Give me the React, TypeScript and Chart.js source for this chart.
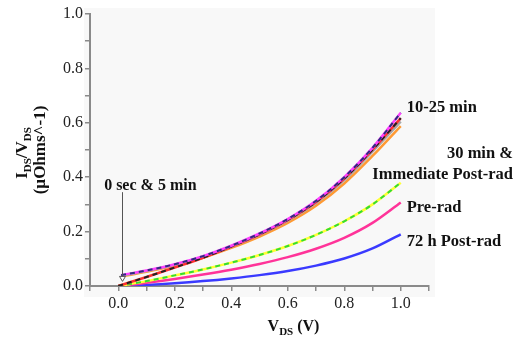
import React, { useEffect, useRef } from "react";
import { Chart, registerables } from "chart.js";

Chart.register(...registerables);

// ---- Data ----
const xUpper = [0.01, 0.1, 0.2, 0.3, 0.4, 0.5, 0.6, 0.7, 0.8, 0.9, 1.0];
const xFull = [0, 0.1, 0.2, 0.3, 0.4, 0.5, 0.6, 0.7, 0.8, 0.9, 1.0];

const magentaVals = [0.040, 0.057, 0.080, 0.110, 0.148, 0.193, 0.246, 0.313, 0.400, 0.508, 0.637];
const grayVals = [0.038, 0.055, 0.078, 0.107, 0.144, 0.188, 0.240, 0.305, 0.389, 0.494, 0.604];
const orangeVals = [0.035, 0.052, 0.075, 0.104, 0.140, 0.182, 0.232, 0.295, 0.377, 0.478, 0.588];
const redVals = [0.0, 0.033, 0.068, 0.104, 0.145, 0.190, 0.243, 0.309, 0.395, 0.501, 0.617];
const yellowVals = [0.0, 0.018, 0.039, 0.061, 0.086, 0.114, 0.147, 0.188, 0.238, 0.300, 0.380];
const pinkVals = [0.0, 0.012, 0.026, 0.042, 0.060, 0.081, 0.106, 0.137, 0.177, 0.232, 0.307];
const blueVals = [0.0, 0.004, 0.010, 0.018, 0.028, 0.040, 0.055, 0.075, 0.101, 0.138, 0.190];

const xTickLabels = ["0.0", "0.2", "0.4", "0.6", "0.8", "1.0"];
const yTickLabels = ["0.0", "0.2", "0.4", "0.6", "0.8", "1.0"];

const annotations = [
  { text: "10-25 min", x: 1.0, y: 0.655, dx: 6, align: "left" },
  { text: "30 min &", x: 1.1, y: 0.488, dx: 84, align: "right" },
  { text: "Immediate Post-rad", x: 1.1, y: 0.41, dx: 84, align: "right" },
  { text: "Pre-rad", x: 1.0, y: 0.288, dx: 6, align: "left" },
  { text: "72 h Post-rad", x: 1.0, y: 0.163, dx: 6, align: "left" },
];
const arrowLabel = { text: "0 sec & 5 min", x: -0.05, y: 0.368 };
const arrowX = 0.013;
const arrowFrom = 0.345;
const arrowTo = 0.017;

const pts = (xs: number[], ys: number[]) => xs.map((x, i) => ({ x, y: ys[i] }));

const SERIF = "'Liberation Serif', 'Times New Roman', serif";

function drawSubText(
  ctx: CanvasRenderingContext2D,
  parts: { t: string; sub?: boolean }[],
  x: number,
  y: number,
  size: number,
  subSize: number,
  align: "center" | "left"
) {
  const widths = parts.map((p) => {
    ctx.font = `bold ${p.sub ? subSize : size}px ${SERIF}`;
    return ctx.measureText(p.t).width;
  });
  const total = widths.reduce((a, b) => a + b, 0);
  let cx = align === "center" ? x - total / 2 : x;
  ctx.textAlign = "left";
  ctx.textBaseline = "alphabetic";
  parts.forEach((p, i) => {
    ctx.font = `bold ${p.sub ? subSize : size}px ${SERIF}`;
    ctx.fillText(p.t, cx, y + (p.sub ? 4 : 0));
    cx += widths[i];
  });
}

const decorPlugin = {
  id: "decor",
  beforeDraw(chart: any) {
    const { ctx, chartArea } = chart;
    ctx.save();
    ctx.fillStyle = "#f8f8f8";
    ctx.fillRect(chartArea.left - 6, chartArea.top - 6, chartArea.right - chartArea.left + 12, chartArea.bottom - chartArea.top + 17);
    ctx.restore();
  },
  afterDraw(chart: any) {
    const { ctx, chartArea } = chart;
    const xs = chart.scales.x;
    const ys = chart.scales.y;
    ctx.save();
    ctx.fillStyle = "#111";

    // Y-axis title (rotated, two lines)
    ctx.save();
    ctx.translate(21, 153);
    ctx.rotate(-Math.PI / 2);
    drawSubText(
      ctx,
      [{ t: "I" }, { t: "DS", sub: true }, { t: "/V" }, { t: "DS", sub: true }],
      0,
      6,
      17,
      11,
      "center"
    );
    ctx.restore();
    ctx.save();
    ctx.translate(41, 150);
    ctx.rotate(-Math.PI / 2);
    ctx.font = `bold 17px ${SERIF}`;
    ctx.textAlign = "center";
    ctx.textBaseline = "middle";
    ctx.fillText("(\u00b5Ohms^-1)", 0, 0);
    ctx.restore();

    // X-axis title
    drawSubText(
      ctx,
      [{ t: "V" }, { t: "DS", sub: true }, { t: " (V)" }],
      (chartArea.left + chartArea.right) / 2 + 34,
      331,
      16,
      11,
      "center"
    );

    // Annotations
    ctx.font = `bold 16.5px ${SERIF}`;
    ctx.textBaseline = "middle";
    annotations.forEach((a) => {
      ctx.textAlign = a.align as CanvasTextAlign;
      ctx.fillText(a.text, xs.getPixelForValue(a.x) + a.dx, ys.getPixelForValue(a.y));
    });
    ctx.font = `bold 16px ${SERIF}`;
    ctx.textAlign = "left";
    ctx.fillText(arrowLabel.text, xs.getPixelForValue(arrowLabel.x), ys.getPixelForValue(arrowLabel.y));

    // Arrow
    const ax = Math.round(xs.getPixelForValue(arrowX)) + 0.5;
    const y0 = ys.getPixelForValue(arrowFrom);
    const y1 = ys.getPixelForValue(arrowTo);
    ctx.strokeStyle = "#555";
    ctx.lineWidth = 1;
    ctx.beginPath();
    ctx.moveTo(ax, y0);
    ctx.lineTo(ax, y1 - 3);
    ctx.stroke();
    ctx.beginPath();
    ctx.moveTo(ax - 3, y1 - 5);
    ctx.lineTo(ax + 3, y1 - 5);
    ctx.lineTo(ax, y1);
    ctx.closePath();
    ctx.fillStyle = "#fff";
    ctx.fill();
    ctx.stroke();
    ctx.restore();
  },
};

export default function App() {
  const ref = useRef<HTMLCanvasElement | null>(null);
  useEffect(() => {
    if (!ref.current) return;
    const line = (data: any, color: string, width: number, dash: number[] = []) => ({
      data,
      borderColor: color,
      backgroundColor: color,
      borderWidth: width,
      borderDash: dash,
      pointRadius: 0,
      fill: false,
      tension: 0.4,
      cubicInterpolationMode: "monotone",
    });
    const chart = new Chart(ref.current, {
      type: "line",
      data: {
        datasets: [
          line(pts(xUpper, magentaVals), "#2e2e80", 2, [5, 4]),
          line(pts(xUpper, magentaVals), "#ff40ff", 2.5),
          line(pts(xFull, redVals), "#222222", 2, [5, 4]),
          line(pts(xFull, redVals), "#ff3030", 2.5),
          line(pts(xUpper, grayVals), "#a8a8a8", 2.5),
          line(pts(xUpper, orangeVals), "#ff9a33", 2.5),
          line(pts(xFull, yellowVals), "#33dd33", 2, [5, 4]),
          line(pts(xFull, yellowVals), "#ffff33", 2.5),
          line(pts(xFull, pinkVals), "#ff3399", 2.5),
          line(pts(xFull, blueVals), "#3a3aff", 2.5),
        ] as any,
      },
      options: {
        responsive: false,
        animation: false,
        events: [],
        layout: { padding: { left: 0, top: 14, right: 91, bottom: 0 } },
        plugins: { legend: { display: false }, tooltip: { enabled: false } },
        scales: {
          x: {
            type: "linear",
            min: -0.1,
            max: 1.1,
            afterFit: (s: any) => {
              s.height = 62;
            },
            afterBuildTicks: (s: any) => {
              const t = [];
              for (let i = -1; i <= 11; i++) t.push({ value: i / 10 });
              s.ticks = t;
            },
            border: { display: true, color: "#8a8a8a", width: 2 },
            grid: { display: true, drawOnChartArea: false, drawTicks: true, tickLength: 5, color: "#8a8a8a", tickColor: "#8a8a8a", lineWidth: 1.5 },
            ticks: {
              autoSkip: false,
              maxRotation: 0,
              padding: 3,
              color: "#222",
              font: { family: SERIF, size: 16 },
              callback: (v: any) => {
                const k = Math.round(Number(v) * 10);
                return k >= 0 && k <= 10 && k % 2 === 0 ? xTickLabels[k / 2] : "";
              },
            },
          },
          y: {
            type: "linear",
            min: 0,
            max: 1,
            afterFit: (s: any) => {
              s.width = 90;
            },
            afterBuildTicks: (s: any) => {
              const t = [];
              for (let i = 0; i <= 10; i++) t.push({ value: i / 10 });
              s.ticks = t;
            },
            border: { display: true, color: "#8a8a8a", width: 2 },
            grid: { display: true, drawOnChartArea: false, drawTicks: true, tickLength: 5, color: "#8a8a8a", tickColor: "#8a8a8a", lineWidth: 1.5 },
            ticks: {
              autoSkip: false,
              padding: 2,
              color: "#222",
              font: { family: SERIF, size: 16 },
              callback: (v: any) => {
                const k = Math.round(Number(v) * 10);
                return k % 2 === 0 ? yTickLabels[k / 2] : "";
              },
            },
          },
        },
      },
      plugins: [decorPlugin],
    } as any);
    return () => chart.destroy();
  }, []);
  return (
    <div style={{ position: "absolute", left: 0, top: 0, width: 520, height: 348, background: "#fff" }}>
      <canvas ref={ref} width={520} height={348} style={{ display: "block" }} />
    </div>
  );
}
